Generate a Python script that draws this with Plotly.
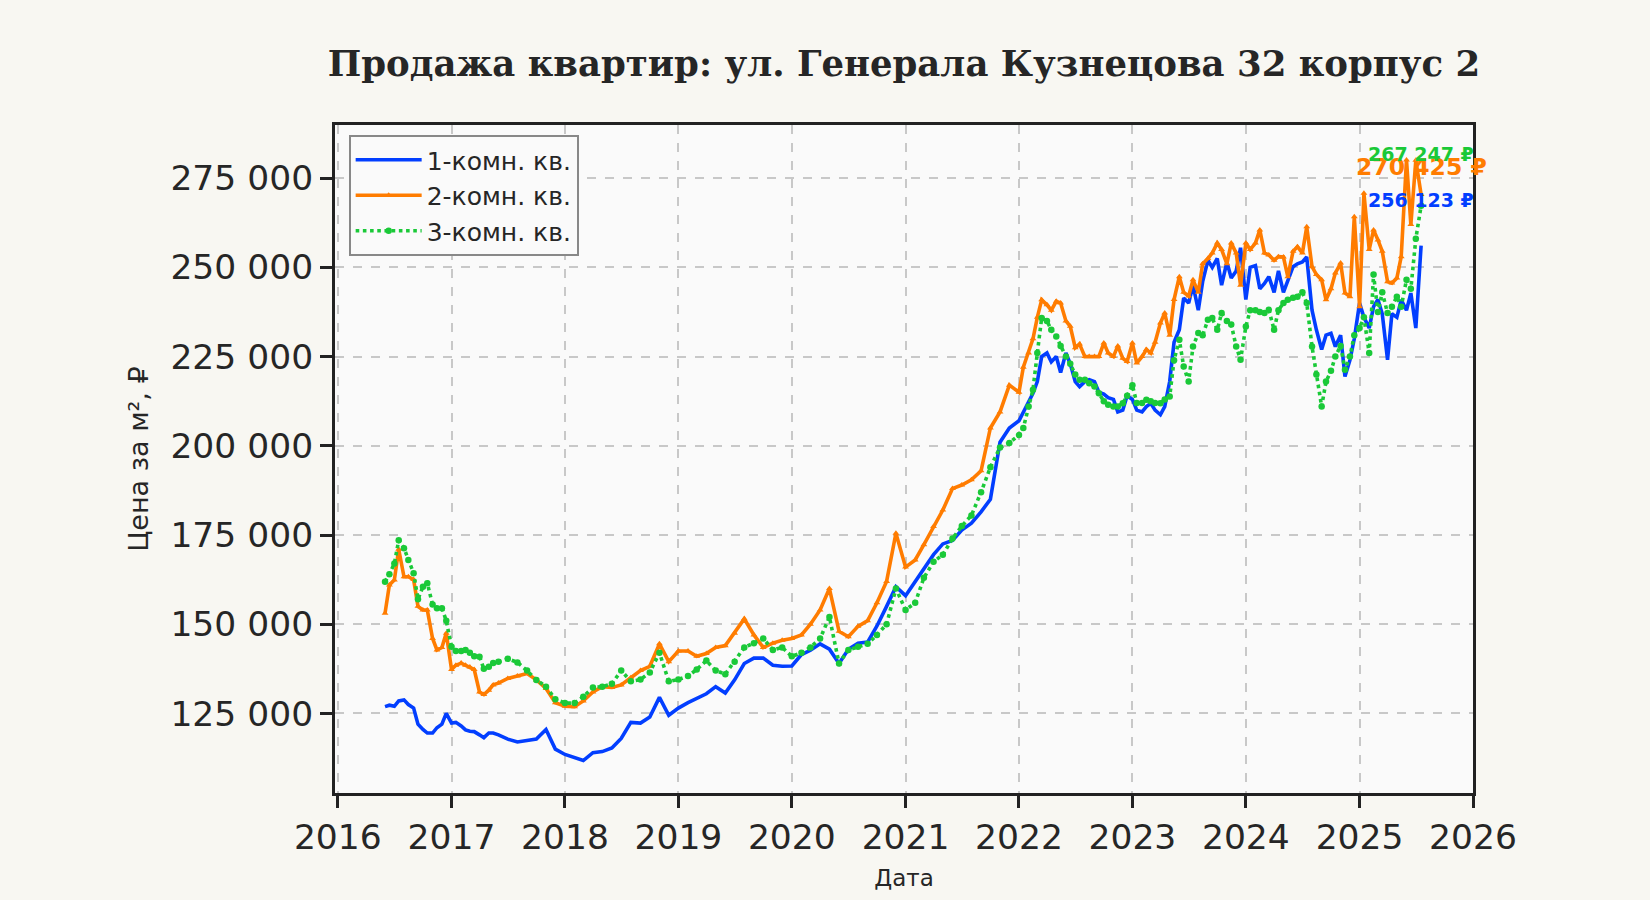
import pandas as pd
import plotly.graph_objects as go

# ---- dates (semi-monthly 2016-06..2017-05, monthly 2017-06..2021-12, semi-monthly 2022-01..2025-06, tail)
dates_a = list(pd.date_range("2016-06-01", "2017-05-15", freq="SMS"))
dates_b = list(pd.date_range("2017-06-01", "2021-12-01", freq="MS"))
dates_c = list(pd.date_range("2022-01-01", "2025-06-15", freq="SMS"))
dates_tail = [pd.Timestamp("2025-07-01"), pd.Timestamp("2025-07-18")]
dates = dates_a + dates_b + dates_c + dates_tail

# ---- values, thousand RUB per m2
one_a = [126.9, 127.3, 127, 128.5, 128.8, 127.5, 126.5, 122, 120.5, 119.5, 119.5, 121,
         122, 125, 122.3, 122.5, 121.5, 120.4, 120, 119.9, 119, 118.2, 119.5, 119.5]
one_b = [119, 117.8, 117, 117.5, 117.8, 120.5, 115,
         113.5, 112.5, 111.8, 114, 114.3, 115.3, 118, 122.5, 122.3, 124, 129.5, 124.5,
         126.5, 128, 129.2, 130.5, 132.5, 130.7, 134.4, 139, 140.5, 140.5, 138.5, 138.2,
         138.3, 141.5, 142.7, 144.5, 143, 139, 143, 144.7, 145, 149.5, 155, 160.5,
         158, 162, 165.5, 169.5, 172.5, 173.5, 176.4, 178.3, 181.5, 185, 201, 205]
one_c = [207, 209.5, 212, 214.7, 218, 225, 226, 223.5, 225, 220.5, 226, 223,
         218, 216.6, 218, 218.5, 218, 215, 214.5, 213.5, 213, 209.5, 210, 214,
         213, 210, 209.5, 211, 211.9, 210, 208.7, 211, 218, 229, 232.5, 241.4,
         240, 245, 238, 246, 252, 250, 252.5, 245, 251.5, 247, 249, 255.5,
         241, 250, 250.5, 244, 245.5, 247.4, 243, 249, 243, 246, 250.2, 251,
         251.5, 252.9, 238, 232.5, 227, 231, 231.5, 227.8, 231, 219.4, 224, 230,
         240, 236, 233, 239, 241, 237, 224.1, 237, 236, 240.9, 238, 242.8]
one_tail = [233, 256.123]

two_a = [153.1, 161, 162.4, 171, 163.3, 163.3, 162.5, 155, 154, 154, 146, 142.8,
         143.5, 147.5, 137.3, 138.5, 139.1, 138.5, 138, 137.3, 131, 130.3, 131.5, 133]
two_b = [133.5, 134.8, 135.5, 136.2, 134.4, 132, 128,
         127, 126.9, 128.5, 131, 132.5, 132.3, 133, 135, 137, 138.2, 144.5, 139.5,
         142.5, 142.5, 141, 141.8, 143.5, 144, 147.5, 151.5, 147, 143.5, 144.7, 145.5,
         146, 147, 150, 154, 160, 148, 146.5, 149.4, 151, 156, 162, 175.5,
         166, 168, 172.3, 177.4, 182, 188, 189, 190.5, 193, 205, 209.5, 217]
two_c = [215, 222, 226, 230, 236, 240.9, 239.5, 238, 240.5, 240, 235, 233.5,
         227.5, 228.5, 225, 225, 225, 225, 228.8, 226, 225, 228, 224.5, 223.6,
         228.8, 223.2, 225, 227, 226, 229, 234.4, 237.2, 231, 241, 247.4, 243,
         242, 246.5, 243, 251, 252.5, 254, 256.8, 255, 251, 256.8, 254, 245,
         256.8, 255, 256.8, 260.5, 254, 253.5, 252, 253, 252.9, 247.4, 254.5, 255.8,
         254, 261.4, 250.2, 248, 246.5, 240.9, 244, 248.4, 251.2, 242.8, 241.8, 264.2,
         239, 270.8, 255, 260.5, 257.7, 254.5, 246, 245.6, 247, 253, 280.1, 262]
two_tail = [280, 270.425]

three_a = [161.9, 164, 167, 173.5, 171.3, 168, 164.3, 157, 160.5, 161.5, 155.5, 154.5,
           154.5, 151, 143.7, 142.5, 142.5, 142.8, 142, 141, 140.9, 137.5, 138.1, 139.1]
three_b = [139.5, 140.3, 139.3, 137, 134.4, 132.5, 129,
           127.9, 127.9, 129.7, 132.3, 132.5, 133.3, 137, 134, 134.5, 136.5, 142, 134,
           134.5, 135.5, 137.3, 139.8, 137, 136, 139.5, 143.5, 144.7, 146, 142.8, 143.5,
           141, 142, 143.5, 146, 152, 139, 142.8, 143.7, 144.5, 147, 150, 160,
           154, 156, 163, 167.5, 169.5, 174, 177.5, 180.5, 187, 194, 199.5, 200.8]
three_c = [203, 205, 211, 215.7, 226, 235.8, 235, 232.5, 230.6, 228, 225, 223,
           220, 218.5, 218.5, 217.5, 216.6, 214.7, 212.5, 211.5, 211, 211, 211.9, 214,
           217, 212, 212, 212.9, 212.5, 212, 211.9, 213, 213.8, 224, 229.7, 222.2,
           218, 227.8, 231.6, 231, 235.3, 235.8, 232.5, 237.2, 235, 234, 227.8, 224.1,
           233.4, 238, 238, 237.5, 237.2, 238.1, 232.5, 238, 240, 240.9, 241.5, 241.8,
           243, 240, 227.8, 220, 211, 218, 221, 225, 228, 221.3, 225, 231,
           233, 236, 226, 248, 237.5, 243, 237.2, 239, 241.8, 239, 246.5, 244]
three_tail = [258, 267.247]

names = ["1-комн. кв.", "2-комн. кв.", "3-комн. кв."]
colors = ["#023eff", "#ff7c00", "#1ac938"]
series = [one_a + one_b + one_c + one_tail,
          two_a + two_b + two_c + two_tail,
          three_a + three_b + three_c + three_tail]

title_text = "Продажа квартир: ул. Генерала Кузнецова 32 корпус 2"
y_ticks = [125000, 150000, 175000, 200000, 225000, 250000, 275000]

fig = go.Figure()
styles = [
    dict(mode="lines", line=dict(width=3.6, dash="solid")),
    dict(mode="lines+markers", line=dict(width=3.6, dash="solid"),
         marker=dict(symbol="triangle-up", size=6)),
    dict(mode="lines+markers", line=dict(width=3.6, dash="dot"),
         marker=dict(symbol="circle", size=6.5)),
]
for name, col, vals, st in zip(names, colors, series, styles):
    y = [v * 1000 for v in vals]
    tr = go.Scatter(x=dates, y=y, name=name, **st)
    tr.line.color = col
    if "marker" in st:
        tr.marker.color = col
    fig.add_trace(tr)

# end-value labels
label_sizes = [19, 23.5, 19]
label_shift = [46, 27, 52]
for col, vals, fs, sh in zip(colors, series, label_sizes, label_shift):
    v = vals[-1] * 1000
    txt = f"{int(round(v)):,}".replace(",", " ") + " ₽"
    fig.add_annotation(x=dates[-1], y=v, text=f"<b>{txt}</b>", showarrow=False,
                       xanchor="center", yanchor="middle", yshift=sh,
                       font=dict(family="DejaVu Sans", size=fs, color=col))

axis_common = dict(
    showline=True, linewidth=3, linecolor="#222222", mirror=True,
    ticks="outside", ticklen=12, tickwidth=2.5, tickcolor="#222222",
    showgrid=True, gridcolor="#c8c8c8", gridwidth=1.6, griddash="dash",
    zeroline=False,
    tickfont=dict(family="DejaVu Sans", size=34.5, color="#262626"),
)

fig.update_layout(
    width=1650, height=900,
    paper_bgcolor="#f8f7f2", plot_bgcolor="#fafafa",
    margin=dict(l=335, r=177, t=125, b=107),
    separators=". ",
    title=dict(text=f"<b>{title_text}</b>", x=0.5, xref="paper", xanchor="center",
               y=1 - 64 / 900, yref="container", yanchor="middle",
               font=dict(family="DejaVu Serif", size=35.5, color="#262626")),
    legend=dict(x=0.012, y=0.985, xanchor="left", yanchor="top",
                bgcolor="#fafafa", bordercolor="#888888", borderwidth=2,
                font=dict(family="DejaVu Sans", size=25, color="#262626"),
                tracegroupgap=0, itemwidth=66),
    showlegend=True,
)
fig.update_xaxes(**axis_common, range=["2015-12-23", "2026-01-01"],
                 dtick="M12", tickformat="%Y",
                 title=dict(text="Дата", standoff=14,
                            font=dict(family="DejaVu Sans", size=23, color="#262626")))
fig.update_yaxes(**axis_common, range=[102700, 289900],
                 tickvals=y_ticks, tickformat=",d",
                 title=dict(text="Цена за м², ₽", standoff=14,
                            font=dict(family="DejaVu Sans", size=27, color="#262626")))

fig.write_html("out.html", config={"displayModeBar": False},
               post_script="document.body.style.margin='0';")
